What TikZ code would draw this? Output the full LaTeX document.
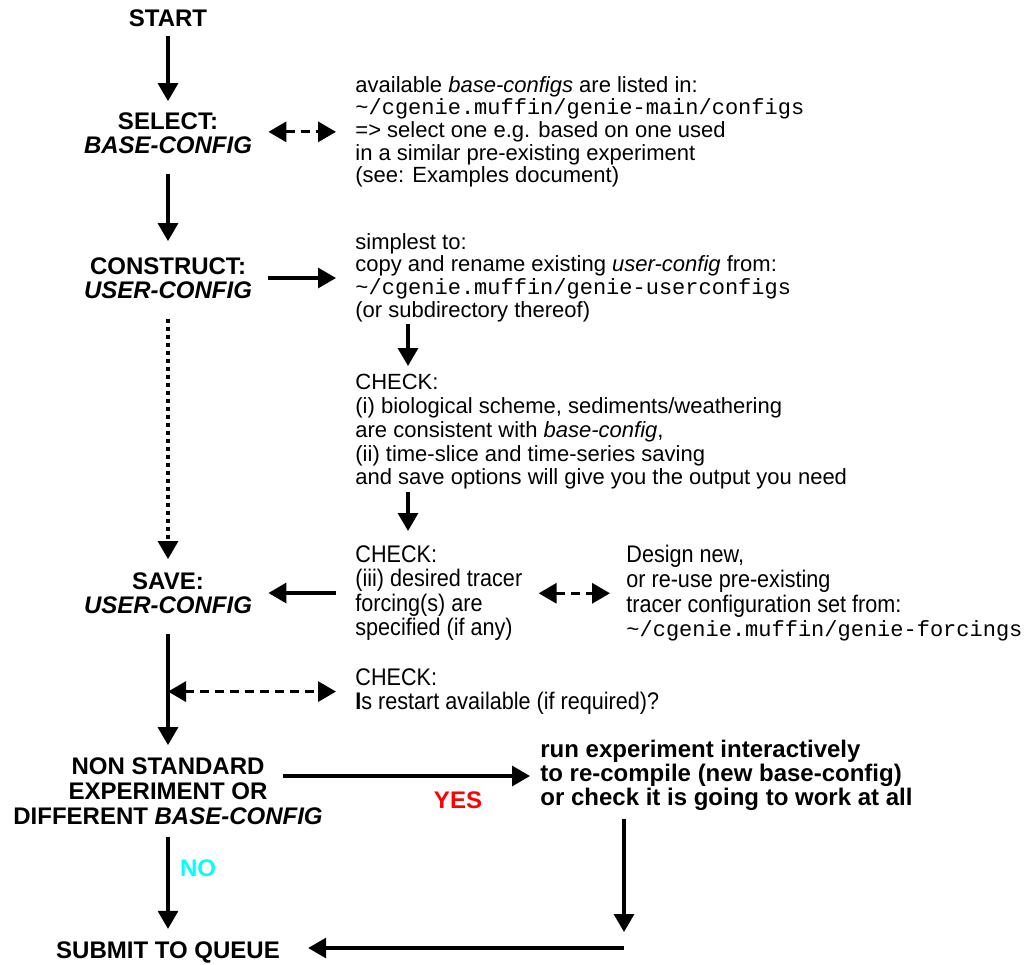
\documentclass[tikz,border=0pt]{standalone}
\usepackage{fontspec}
\setmainfont{Liberation Sans}
\setmonofont{Liberation Mono}
\newfontfamily\narrowfont[FakeStretch=0.9]{Liberation Sans}
\usetikzlibrary{arrows.meta}
\definecolor{yesred}{RGB}{255,0,0}
\definecolor{nocyan}{RGB}{0,255,255}

\begin{document}
\begin{tikzpicture}[x=0.5pt, y=-0.5pt,
    stage/.style={font=\bfseries\fontsize{12}{12}\selectfont, align=center, inner sep=0pt},
    note/.style={font=\fontsize{11}{11.3}\selectfont, align=left, anchor=north west, inner sep=0pt},
    narrownote/.style={note, font=\narrowfont\fontsize{12}{12.3}\selectfont},
    link/.style={line width=1.6pt, -{Triangle[length=9pt,width=10pt]}},
    twoway/.style={line width=1.6pt, dash pattern=on 4.5pt off 3pt,
        {Triangle[length=9pt,width=10pt]}-{Triangle[length=9pt,width=10pt]}}]

        \useasboundingbox (0,0) rectangle (1031,964);

        %Main sequence
        \node [stage] (start)     at (168,18)  {START};
        \node [stage] (select)    at (168,133) {SELECT:\\\textit{BASE-CONFIG}};
        \node [stage] (construct) at (168,278) {CONSTRUCT:\\\textit{USER-CONFIG}};
        \node [stage] (save)      at (168,593) {SAVE:\\\textit{USER-CONFIG}};
        \node [stage, font=\bfseries\fontsize{12}{12.5}\selectfont]
                      (decide)    at (168,791) {NON STANDARD\\EXPERIMENT OR\\DIFFERENT \textit{BASE-CONFIG}};
        \node [stage] (submit)    at (168,952) {SUBMIT TO QUEUE};

        %Notes
        \node [note] (available) at (355,76)  {available \textit{base-configs} are listed in:\\
            \texttt{\textasciitilde/cgenie.muffin/genie-main/configs}\\
            => select one e.g. based on one used\\
            in a similar pre-existing experiment\\
            (see: Examples document)};
        \node [note] (simplest)  at (355,233) {simplest to:\\
            copy and rename existing \textit{user-config} from:\\
            \texttt{\textasciitilde/cgenie.muffin/genie-userconfigs}\\
            (or subdirectory thereof)};
        \node [note, font=\fontsize{11}{11.9}\selectfont]
                     (checkcfg)  at (355,374) {CHECK:\\
            (i) biological scheme, sediments/weathering\\
            are consistent with \textit{base-config},\\
            (ii) time-slice and time-series saving\\
            and save options will give you the output you need};
        \node [narrownote] (checkfrc) at (355,545) {CHECK:\\
            (iii) desired tracer\\
            forcing(s) are\\
            specified (if any)};
        \node [narrownote] (design)   at (626,545) {Design new,\\
            or re-use pre-existing\\
            tracer configuration set from:\\
            {\normalfont\fontsize{11}{11}\selectfont\texttt{\textasciitilde/cgenie.muffin/genie-forcings}}};
        \node [narrownote] (restart)  at (355,668) {CHECK:\\
            \textbf{I}s restart available (if required)?};
        \node [note, font=\bfseries\fontsize{12}{12}\selectfont]
                     (run)       at (540,740) {run experiment interactively\\
            to re-compile (new base-config)\\
            or check it is going to work at all};

        %Answers
        \node [stage, text=yesred] (yes) at (458,800) {YES};
        \node [stage, text=nocyan] (no)  at (198,868) {NO};

        %Helper coordinates
        \coordinate (col)    at (408,0);
        \coordinate (fork)   at (283,776);
        \coordinate (corner) at (624,948);

        %Vertical flow
        \draw [link, shorten <=4.5pt, shorten >=5.5pt] (start) -- (select);
        \draw [link, shorten <=10pt, shorten >=8pt]    (select) -- (construct);
        \draw [link, dash pattern=on 2pt off 2pt, shorten <=10pt, shorten >=6.5pt]
                                                        (construct) -- (save);
        \draw [link, shorten <=10pt, shorten >=6pt]    (save) -- (decide);
        \draw [link, shorten <=6pt, shorten >=6pt]     (decide) -- (submit);

        \draw [link, shorten <=1pt, shorten >=4pt]     (simplest.south -| col) -- (checkcfg.north -| col);
        \draw [link, shorten <=1pt, shorten >=7pt]     (checkcfg.south -| col) -- (checkfrc.north -| col);

        %Side links
        \draw [twoway, shorten <=8pt, shorten >=9.5pt] (select.east |- available.west) -- (available.west);
        \draw [link, shorten <=8pt, shorten >=9.5pt]   (construct.east) -- (construct.east -| simplest.west);
        \draw [link, shorten <=9.5pt, shorten >=8pt]   (checkfrc.west |- save) -- (save.east);
        \draw [twoway, shorten <=8pt, shorten >=8pt]   (checkfrc.east |- design.west) -- (design.west);
        \draw [twoway, shorten >=9.5pt]                (save.south |- restart.west) -- (restart.west);

        %Non standard branch
        \draw [link, shorten >=5pt]                    (fork) -- (fork -| run.west);
        \draw [link, shorten <=4pt]                    (corner |- run.south) -- ([yshift=8pt]corner);
        \draw [link, shorten >=14pt]                   (corner) -- (corner -| submit.east);

\end{tikzpicture}
\end{document}
